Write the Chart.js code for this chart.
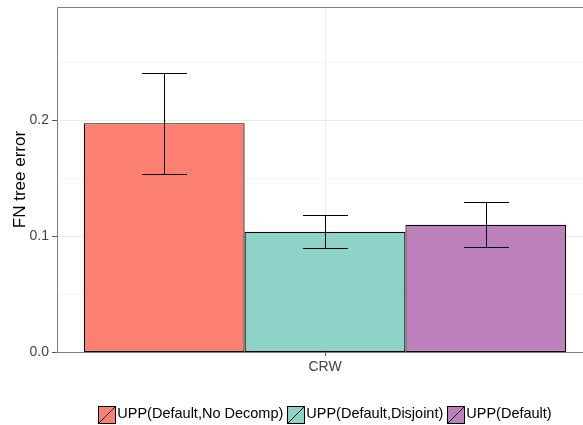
<!DOCTYPE html>
<html>
<head>
<meta charset="utf-8">
<script src="https://cdn.jsdelivr.net/npm/chart.js@4.4.0/dist/chart.umd.min.js"></script>
<style>
  html, body { margin: 0; padding: 0; background: #fff; overflow: hidden; width: 583px; height: 425px; }
  canvas { display: block; }
</style>
</head>
<body>
<canvas id="chart" width="652" height="425"></canvas>
<script>
const categories = ["CRW"];
const seriesNames = ["UPP(Default,No Decomp)", "UPP(Default,Disjoint)", "UPP(Default)"];
const meanValues = [0.197, 0.1035, 0.1095];
const lowerValues = [0.153, 0.0895, 0.0905];
const upperValues = [0.2405, 0.118, 0.129];
const fillColors = ["#FB8072", "#8DD3C7", "#BC80BD"];
const yTickLabels = ["0.0", "0.1", "0.2"];
const yGridValues = [0, 0.05, 0.1, 0.15, 0.2, 0.25];

const FONT = "'Liberation Sans', Arial, sans-serif";

function isMajor(v) {
  return yTickLabels.some(l => Math.abs(parseFloat(l) - v) < 1e-6);
}

// panel grid, frame and tick marks
const panel = {
  id: "panel",
  beforeDatasetsDraw(chart) {
    const ctx = chart.ctx, a = chart.chartArea, y = chart.scales.y, x = chart.scales.x;
    ctx.save();
    ctx.lineWidth = 1;
    yGridValues.forEach(v => {
      const py = Math.round(y.getPixelForValue(v)) + 0.5;
      ctx.strokeStyle = isMajor(v) ? "#ebebeb" : "#f6f6f6";
      ctx.beginPath(); ctx.moveTo(a.left, py); ctx.lineTo(a.right, py); ctx.stroke();
      if (isMajor(v)) {
        ctx.strokeStyle = "#555";
        ctx.beginPath(); ctx.moveTo(a.left - 5, py); ctx.lineTo(a.left, py); ctx.stroke();
      }
    });
    const px = Math.round(x.getPixelForValue(0)) + 0.5;
    ctx.strokeStyle = "#ebebeb";
    ctx.beginPath(); ctx.moveTo(px, a.top); ctx.lineTo(px, a.bottom); ctx.stroke();
    ctx.strokeStyle = "#555";
    ctx.beginPath(); ctx.moveTo(px, a.bottom); ctx.lineTo(px, a.bottom + 4); ctx.stroke();
    ctx.strokeStyle = "#7f7f7f";
    const l = Math.round(a.left) + 0.5, t = Math.round(a.top) + 0.5, b = Math.round(a.bottom) + 0.5;
    ctx.beginPath();
    ctx.moveTo(a.right, t); ctx.lineTo(l, t); ctx.lineTo(l, b); ctx.lineTo(a.right, b);
    ctx.stroke();
    ctx.restore();
  }
};

// whiskers drawn from the y scale
const errorBars = {
  id: "errorBars",
  afterDatasetsDraw(chart) {
    const ctx = chart.ctx, y = chart.scales.y;
    ctx.save();
    ctx.strokeStyle = "#000";
    ctx.lineWidth = 1;
    chart.data.datasets.forEach((ds, i) => {
      const bar = chart.getDatasetMeta(i).data[0];
      const x = Math.round(bar.x) + 0.5;
      const hw = bar.width * 0.14;
      const top = Math.round(y.getPixelForValue(upperValues[i])) + 0.5;
      const bot = Math.round(y.getPixelForValue(lowerValues[i])) + 0.5;
      ctx.beginPath();
      ctx.moveTo(x, top); ctx.lineTo(x, bot);
      ctx.moveTo(x - hw, top); ctx.lineTo(x + hw, top);
      ctx.moveTo(x - hw, bot); ctx.lineTo(x + hw, bot);
      ctx.stroke();
    });
    ctx.restore();
  }
};

// ggplot style legend with slashed keys
const keyLegend = {
  id: "keyLegend",
  afterDraw(chart) {
    const ctx = chart.ctx;
    const box = 17, gap = 2, itemGap = 4, cy = 414;
    ctx.save();
    ctx.font = "14.5px " + FONT;
    const widths = seriesNames.map(n => ctx.measureText(n).width);
    const total = widths.reduce((a, w) => a + box + gap + w, 0) + itemGap * (seriesNames.length - 1);
    let x = chart.width / 2 - total / 2 - 1;
    seriesNames.forEach((name, i) => {
      const bx = Math.round(x) + 0.5, by = Math.round(cy - box / 2) + 0.5;
      ctx.fillStyle = fillColors[i];
      ctx.fillRect(bx, by, box, box);
      ctx.strokeStyle = "#000";
      ctx.lineWidth = 1;
      ctx.strokeRect(bx, by, box, box);
      ctx.beginPath();
      ctx.moveTo(bx, by + box); ctx.lineTo(bx + box, by);
      ctx.stroke();
      ctx.fillStyle = "#000";
      ctx.textBaseline = "middle";
      ctx.textAlign = "left";
      ctx.fillText(name, x + box + gap, cy);
      x += box + gap + widths[i] + itemGap;
    });
    ctx.restore();
  }
};

new Chart(document.getElementById("chart").getContext("2d"), {
  type: "bar",
  data: {
    labels: categories,
    datasets: seriesNames.map((name, i) => ({
      label: name,
      data: [meanValues[i]],
      backgroundColor: fillColors[i],
      borderColor: "#000",
      borderWidth: 1.2,
      borderSkipped: false,
      categoryPercentage: 0.9,
      barPercentage: 1.0
    }))
  },
  options: {
    responsive: false,
    animation: false,
    layout: { autoPadding: false, padding: { left: 0, top: 7, right: 59, bottom: 0 } },
    plugins: { legend: { display: false }, tooltip: { enabled: false } },
    scales: {
      x: {
        afterFit(scale) { scale.height = 73; },
        grid: { display: false, drawTicks: false },
        border: { display: false },
        ticks: { font: { family: FONT, size: 14 }, color: "#444", padding: 7 }
      },
      y: {
        min: 0,
        max: 0.297,
        afterFit(scale) {
          scale.width = 57;
          scale.paddingTop = 0;
          scale.paddingBottom = 0;
        },
        grid: { display: false, drawTicks: false },
        border: { display: false },
        ticks: {
          stepSize: 0.05,
          padding: 8,
          font: { family: FONT, size: 14 },
          color: "#444",
          callback: v => {
            const l = yTickLabels.find(t => Math.abs(parseFloat(t) - v) < 1e-6);
            return l === undefined ? "" : l;
          }
        },
        title: {
          display: true,
          text: "FN tree error",
          font: { family: FONT, size: 17 },
          color: "#000",
          padding: { top: 10, bottom: 0 }
        }
      }
    }
  },
  plugins: [panel, errorBars, keyLegend]
});
</script>
</body>
</html>
